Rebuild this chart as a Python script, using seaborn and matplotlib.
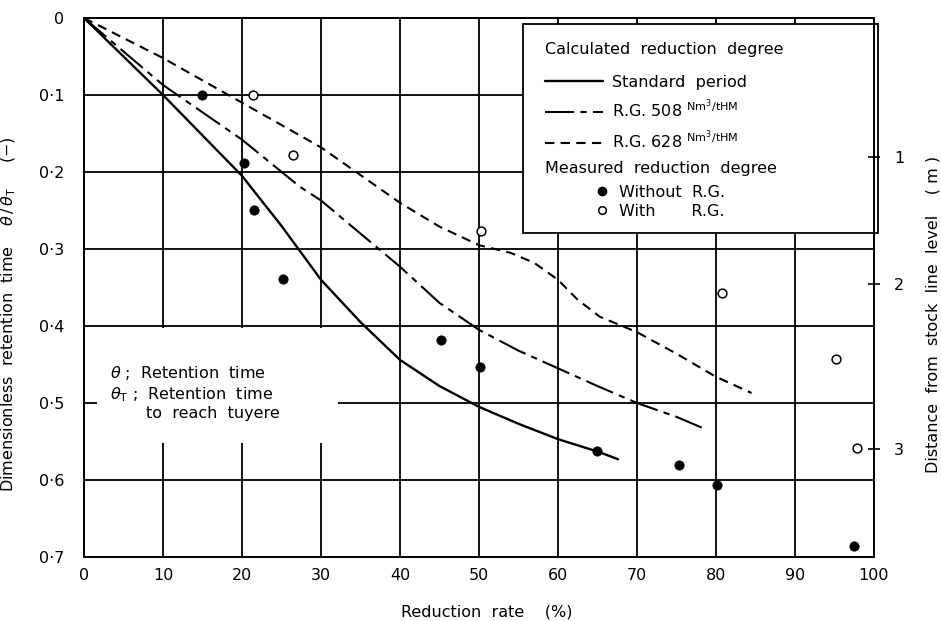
import matplotlib
matplotlib.use("Agg")
import matplotlib.pyplot as plt
from matplotlib.patches import Rectangle
from matplotlib.lines import Line2D
import seaborn as sns

# ---------------- data ----------------
std_x = [0, 10, 20, 25, 30, 35, 40, 45, 50, 55, 60, 65, 67.6]
std_y = [0, 0.100, 0.205, 0.270, 0.340, 0.395, 0.444, 0.478, 0.505, 0.527, 0.547, 0.563, 0.573]

rg508_x = [0, 10, 20, 27.3, 30, 40, 45, 50, 55, 60, 65, 70, 75, 78.2]
rg508_y = [0, 0.087, 0.158, 0.219, 0.237, 0.323, 0.370, 0.405, 0.432, 0.455, 0.478, 0.500, 0.518, 0.532]

rg628_x = [0, 10, 20, 30, 40, 45, 50, 54, 57, 60, 62.5, 65.3, 70, 75, 80, 84.5]
rg628_y = [0, 0.052, 0.110, 0.168, 0.240, 0.271, 0.295, 0.305, 0.318, 0.340, 0.366, 0.388, 0.408, 0.436, 0.466, 0.487]

without_x = [14.9, 20.2, 21.5, 25.2, 45.2, 50.1, 64.9, 75.3, 80.1, 97.5]
without_y = [0.100, 0.188, 0.249, 0.339, 0.418, 0.453, 0.562, 0.581, 0.606, 0.686]

with_x = [21.4, 26.4, 50.3, 80.7, 95.2, 97.8]
with_y = [0.100, 0.178, 0.277, 0.357, 0.443, 0.558]

x_ticks = [0, 10, 20, 30, 40, 50, 60, 70, 80, 90, 100]
x_ticklabels = ["0", "10", "20", "30", "40", "50", "60", "70", "80", "90", "100"]
y_ticks = [0, 0.1, 0.2, 0.3, 0.4, 0.5, 0.6, 0.7]
y_ticklabels = ["0", "0·1", "0·2", "0·3", "0·4", "0·5", "0·6", "0·7"]
right_ticks = [0.18, 0.345, 0.56]
right_ticklabels = ["1", "2", "3"]

# ---------------- style ----------------
sns.set_theme(style="white")
plt.rcParams["font.family"] = ["DejaVu Sans"]
plt.rcParams["axes.edgecolor"] = "black"
plt.rcParams["axes.linewidth"] = 1.4
plt.rcParams["text.color"] = "black"
plt.rcParams["axes.labelcolor"] = "black"
plt.rcParams["xtick.color"] = "black"
plt.rcParams["ytick.color"] = "black"
plt.rcParams["legend.labelcolor"] = "black"
FS = 11.5
TFS = 11.5
LFS = 11.5

fig = plt.figure(figsize=(9.41, 6.21), dpi=100)
ax = fig.add_axes([84 / 941, 1 - 557 / 621, 790 / 941, 539 / 621])

ax.set_xlim(0, 100)
ax.set_ylim(0.7, 0)
ax.set_xticks(x_ticks)
ax.set_xticklabels(x_ticklabels, fontsize=TFS)
ax.set_yticks(y_ticks)
ax.set_yticklabels(y_ticklabels, fontsize=TFS)
ax.tick_params(axis="both", direction="in", length=0, colors="black")
ax.tick_params(axis="x", pad=8)
ax.tick_params(axis="y", pad=14)
ax.set_axisbelow(True)
ax.grid(True, color="black", linewidth=1.3)

# blank area behind the annotation text
ax.add_patch(Rectangle((1.7, 0.403), 30.5, 0.149, facecolor="white",
                       edgecolor="none", zorder=1))

# ---------------- lines ----------------
sns.lineplot(x=std_x, y=std_y, ax=ax, color="black", linewidth=1.7,
             estimator=None, sort=False, zorder=3)
sns.lineplot(x=rg508_x, y=rg508_y, ax=ax, color="black", linewidth=1.5,
             linestyle=(0, (14, 3, 3, 3)), estimator=None, sort=False, zorder=3)
sns.lineplot(x=rg628_x, y=rg628_y, ax=ax, color="black", linewidth=1.5,
             linestyle=(0, (4.5, 3)), estimator=None, sort=False, zorder=3)

sns.scatterplot(x=without_x, y=without_y, ax=ax, color="black", s=45,
                edgecolor="black", zorder=4)
sns.scatterplot(x=with_x, y=with_y, ax=ax, facecolor="white", s=40,
                edgecolor="black", linewidth=1.1, zorder=4)

# ---------------- legend box ----------------
ax.add_patch(Rectangle((0.556, 0.601), 0.449, 0.388, transform=ax.transAxes,
                       facecolor="white", edgecolor="black", linewidth=1.3,
                       zorder=5, clip_on=False))
ax.text(0.584, 0.941, "Calculated  reduction  degree", transform=ax.transAxes,
        fontsize=FS, va="center", ha="left", zorder=6)
ax.text(0.584, 0.720, "Measured  reduction  degree", transform=ax.transAxes,
        fontsize=FS, va="center", ha="left", zorder=6)

line_handles = [
    Line2D([], [], color="black", linewidth=1.7),
    Line2D([], [], color="black", linewidth=1.5, linestyle=(0, (14, 3, 3, 3))),
    Line2D([], [], color="black", linewidth=1.5, linestyle=(0, (4.5, 3))),
]
line_labels = ["Standard  period",
               r"R.G. 508 $^{\mathrm{Nm^3/tHM}}$",
               r"R.G. 628 $^{\mathrm{Nm^3/tHM}}$"]
leg1 = ax.legend(line_handles, line_labels, loc="upper left",
                 bbox_to_anchor=(0.584, 0.895), bbox_transform=ax.transAxes,
                 frameon=False, fontsize=FS, handlelength=3.6,
                 handletextpad=0.6, labelspacing=0.5, borderpad=0,
                 borderaxespad=0)
leg1.set_zorder(7)
ax.add_artist(leg1)

marker_handles = [
    Line2D([], [], color="black", marker="o", markersize=6, linestyle="none"),
    Line2D([], [], color="black", marker="o", markersize=5.5,
           markerfacecolor="white", markeredgewidth=1.1, linestyle="none"),
]
marker_labels = ["Without  R.G.", "With       R.G."]
leg2 = ax.legend(marker_handles, marker_labels, loc="upper left",
                 bbox_to_anchor=(0.645, 0.690), bbox_transform=ax.transAxes,
                 frameon=False, fontsize=FS, handlelength=1.0,
                 handletextpad=0.6, labelspacing=0.25, borderpad=0,
                 borderaxespad=0)
leg2.set_zorder(7)

# ---------------- annotation ----------------
ax.text(3.3, 0.461, r"$\theta$ ;  Retention  time", fontsize=FS, va="center",
        ha="left", zorder=6)
ax.text(3.3, 0.489, r"$\theta_{\mathrm{T}}$ ;  Retention  time", fontsize=FS,
        va="center", ha="left", zorder=6)
ax.text(7.8, 0.514, "to  reach  tuyere", fontsize=FS, va="center", ha="left",
        zorder=6)

# ---------------- labels ----------------
ax.set_xlabel("Reduction  rate    (%)", fontsize=LFS)
ax.xaxis.set_label_coords(0.51, -0.089)
ax.set_ylabel(r"Dimensionless  retention  time    $\theta\,/\,\theta_{\mathrm{T}}$     (−)",
              fontsize=LFS)
ax.yaxis.set_label_coords(-0.084, 0.45)

# ---------------- right axis ----------------
ax2 = ax.twinx()
ax2.set_ylim(0.7, 0)
ax2.set_yticks(right_ticks)
ax2.set_yticklabels(right_ticklabels, fontsize=TFS)
ax2.tick_params(axis="y", direction="inout", length=9, width=1.2,
                colors="black", pad=10)
ax2.grid(False)
ax2.set_ylabel("Distance  from  stock  line  level    ( m )", fontsize=LFS,
               rotation=90)
ax2.yaxis.set_label_coords(1.065, 0.45)
for sp in ax2.spines.values():
    sp.set_linewidth(1.4)
    sp.set_color("black")

fig.savefig("out.png", dpi=100)
